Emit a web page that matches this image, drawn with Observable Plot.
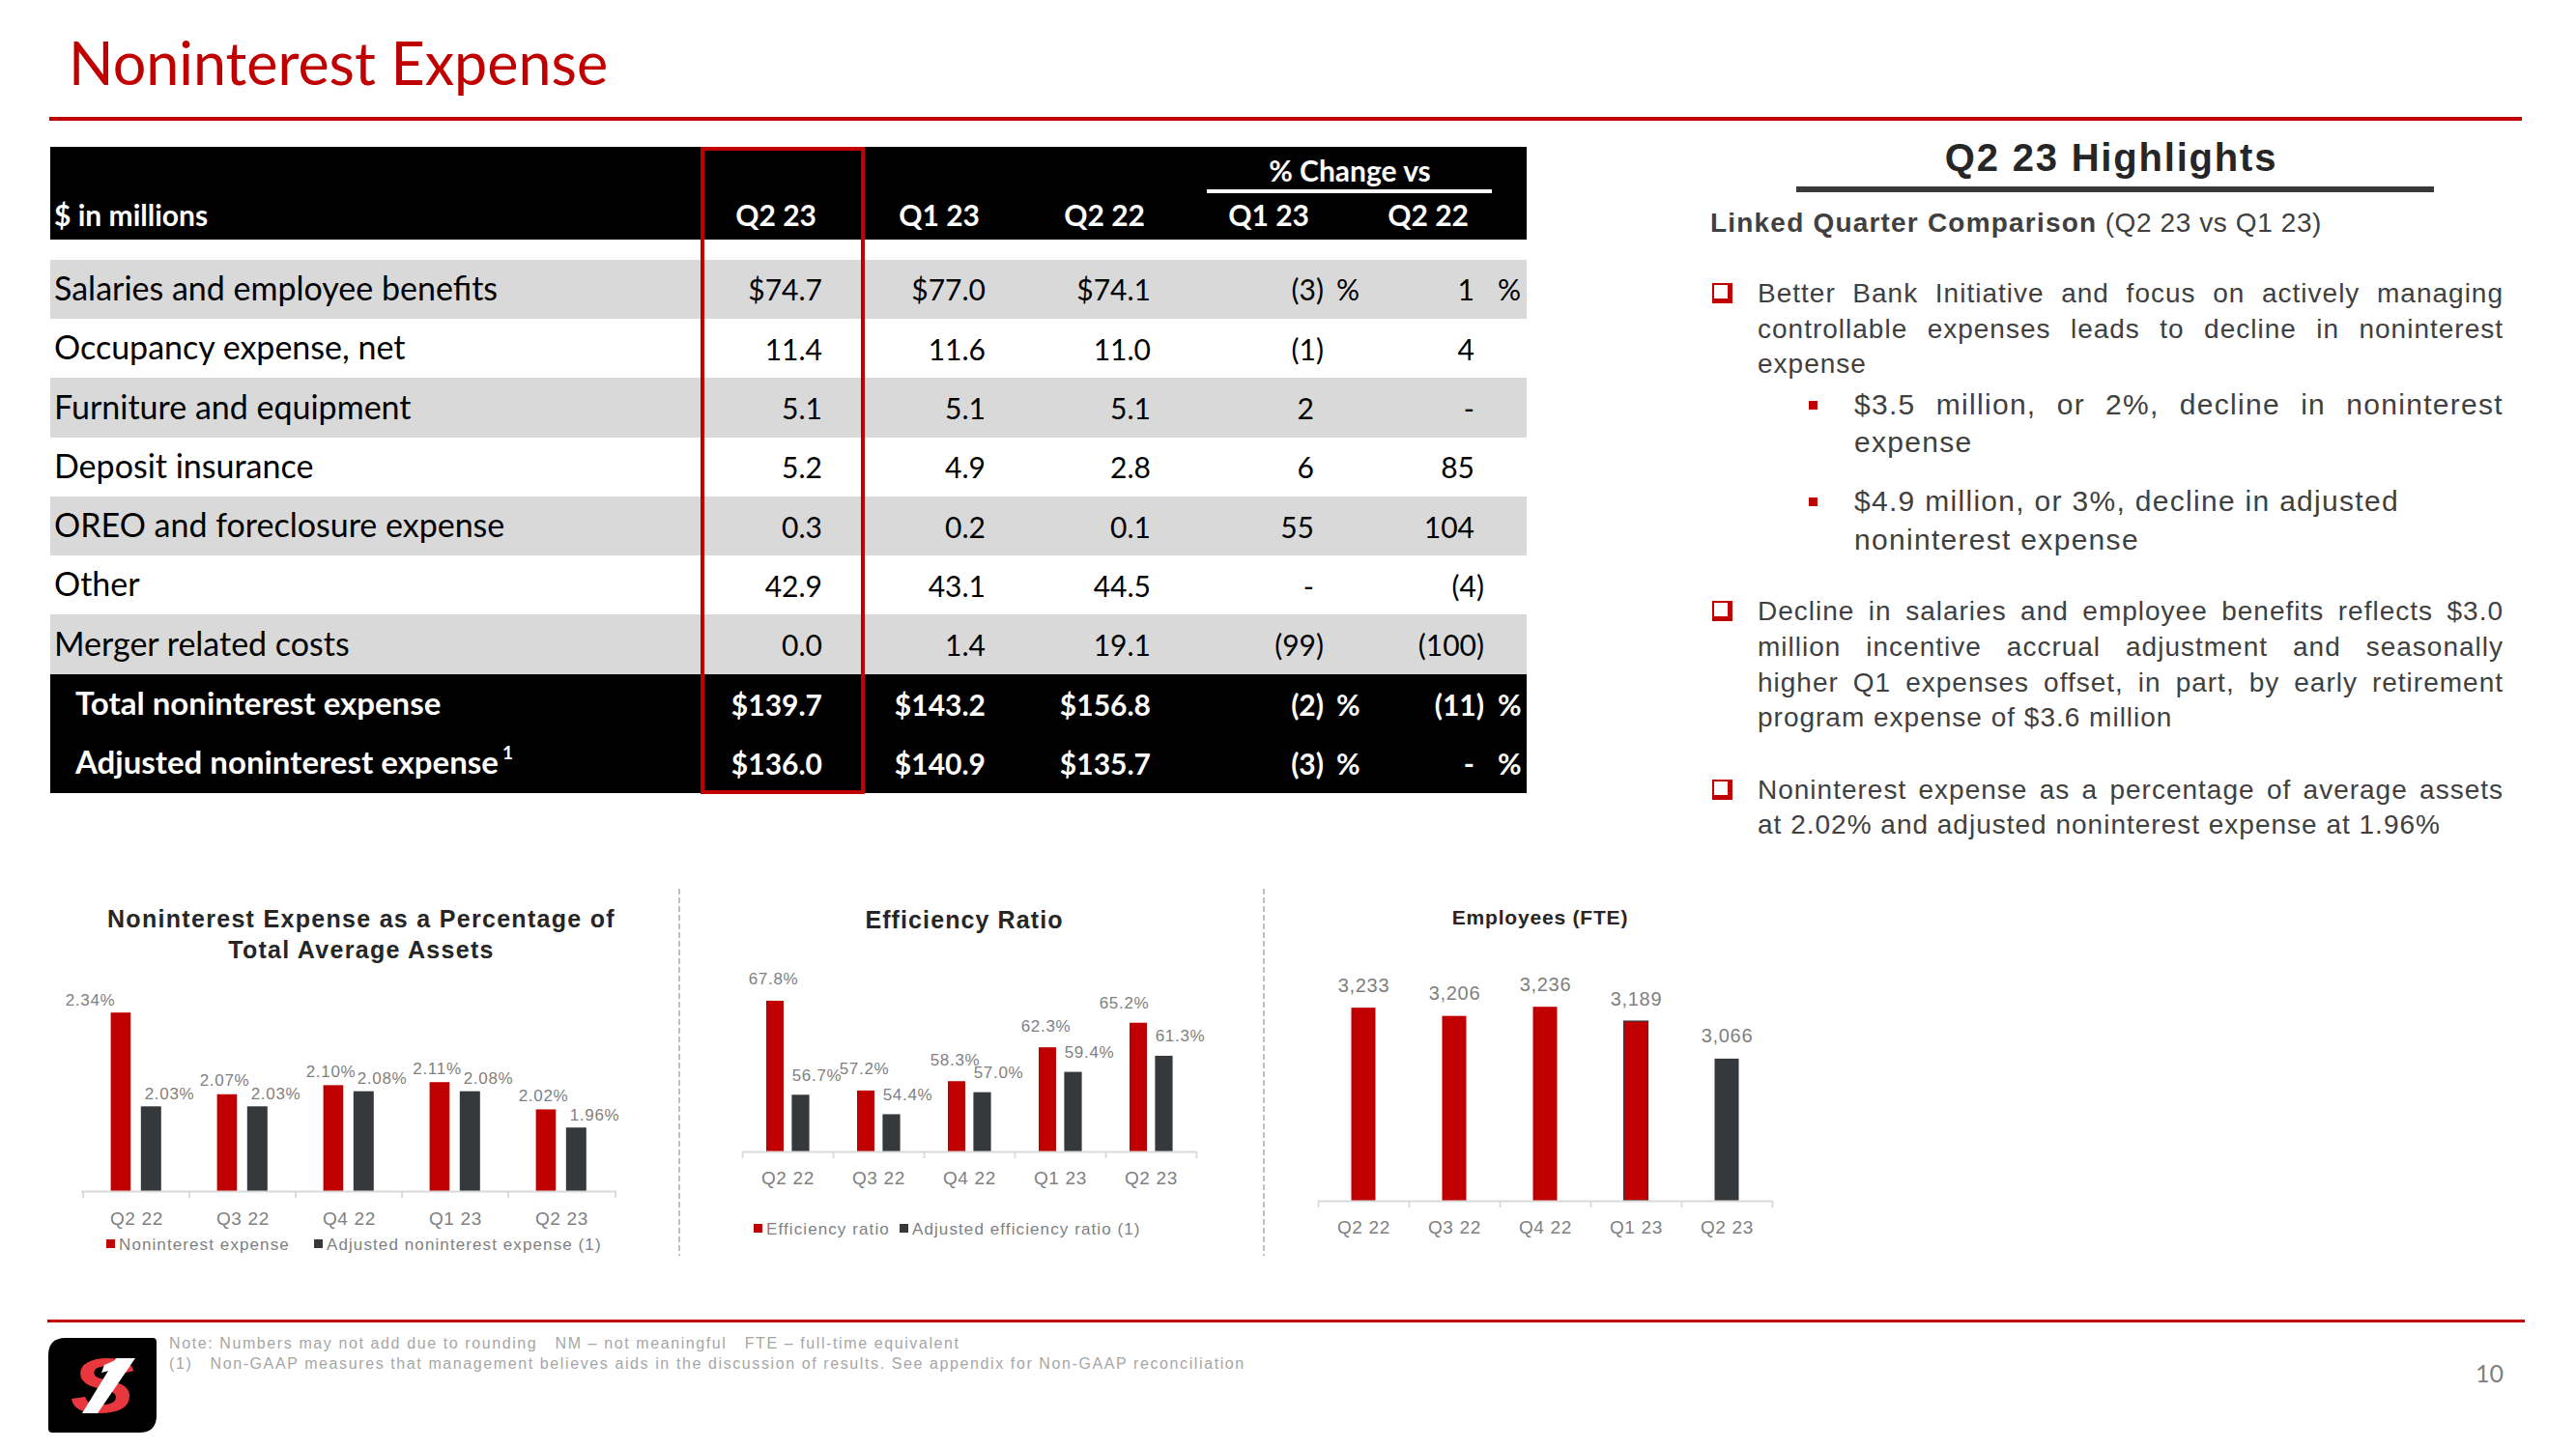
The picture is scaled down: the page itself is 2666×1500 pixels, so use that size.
<!DOCTYPE html>
<html><head><meta charset="utf-8">
<script src="https://cdn.jsdelivr.net/npm/d3@7"></script>
<script src="https://cdn.jsdelivr.net/npm/@observablehq/plot@0.6"></script>
<style>
html,body{margin:0;padding:0;background:#fff;}
#page{position:relative;width:2666px;height:1500px;overflow:hidden;background:#fff;}
#page > div{position:absolute;white-space:pre;}
</style></head>
<body><div id="page"></div>
<script>
// ---------------- data ----------------
const slideTitle = "Noninterest Expense";
const tableUnit = "$ in millions";
const tableColumns = ["Q2 23", "Q1 23", "Q2 22"];
const changeHeader = "% Change vs";
const changeColumns = ["Q1 23", "Q2 22"];
const lineItems = ["Salaries and employee benefits", "Occupancy expense, net", "Furniture and equipment", "Deposit insurance", "OREO and foreclosure expense", "Other", "Merger related costs", "Total noninterest expense", "Adjusted noninterest expense"];
const lineItemNotes = ["", "", "", "", "", "", "", "", "1"];
const valuesQ223 = ["$74.7", "11.4", "5.1", "5.2", "0.3", "42.9", "0.0", "$139.7", "$136.0"];
const valuesQ123 = ["$77.0", "11.6", "5.1", "4.9", "0.2", "43.1", "1.4", "$143.2", "$140.9"];
const valuesQ222 = ["$74.1", "11.0", "5.1", "2.8", "0.1", "44.5", "19.1", "$156.8", "$135.7"];
const changeVsQ123 = ["(3) %", "(1)", "2", "6", "55", "-", "(99)", "(2) %", "(3) %"];
const changeVsQ222 = ["1 %", "4", "-", "85", "104", "(4)", "(100)", "(11) %", "- %"];

const quarters = ["Q2 22", "Q3 22", "Q4 22", "Q1 23", "Q2 23"];
const nieToAssets = [2.34, 2.07, 2.10, 2.11, 2.02];
const adjNieToAssets = [2.03, 2.03, 2.08, 2.08, 1.96];
const efficiencyRatio = [67.8, 57.2, 58.3, 62.3, 65.2];
const adjEfficiencyRatio = [56.7, 54.4, 57.0, 59.4, 61.3];
const employeesFTE = [3233, 3206, 3236, 3189, 3066];

const chart1Title = ["Noninterest Expense as a Percentage of", "Total Average Assets"];
const chart1Legend = ["Noninterest expense", "Adjusted noninterest expense (1)"];
const chart2Title = "Efficiency Ratio";
const chart2Legend = ["Efficiency ratio", "Adjusted efficiency ratio (1)"];
const chart3Title = "Employees (FTE)";

const highlightsTitle = "Q2 23 Highlights";
const highlightsLead = "Linked Quarter Comparison";
const highlightsLeadNote = " (Q2 23 vs Q1 23)";
const bullet1 = ["Better Bank Initiative and focus on actively managing", "controllable expenses leads to decline in noninterest", "expense"];
const subBullet1 = ["$3.5 million, or 2%, decline in noninterest", "expense"];
const subBullet2 = ["$4.9 million, or 3%, decline in adjusted", "noninterest expense"];
const bullet2 = ["Decline in salaries and employee benefits reflects $3.0", "million incentive accrual adjustment and seasonally", "higher Q1 expenses offset, in part, by early retirement", "program expense of $3.6 million"];
const bullet3 = ["Noninterest expense as a percentage of average assets", "at 2.02% and adjusted noninterest expense at 1.96%"];
const footNotes = ["Note: Numbers may not add due to rounding   NM \u2013 not meaningful   FTE \u2013 full-time equivalent", "(1)   Non-GAAP measures that management believes aids in the discussion of results. See appendix for Non-GAAP reconciliation"];
const pageNumber = "10";

// ---------------- helpers ----------------
const RED = "#C00000", DARK = "#36393B", GRAY = "#7F7F7F", AXIS = "#D9D9D9", TEXT = "#404040";
const page = document.getElementById("page");
const FONTS = {lato: ['Lato, "Open Sans", sans-serif', 0.887], lib: ['"Liberation Sans", Arial, sans-serif', 0.8465]};
function txt(s, o) {
  const d = document.createElement("div");
  const [fam, k] = FONTS[o.font || "lib"];
  d.textContent = s;
  Object.assign(d.style, {
    fontFamily: fam, fontSize: o.size + "px", lineHeight: o.size + "px",
    fontWeight: o.weight || 400, color: o.color || "#000",
    letterSpacing: (o.ls || 0) + "px", top: (o.y - k * o.size) + "px"
  });
  if (o.anchor === "middle") { d.style.left = o.x + "px"; d.style.transform = "translateX(-50%)"; }
  else if (o.anchor === "end") { d.style.right = (2666 - o.x) + "px"; }
  else d.style.left = o.x + "px";
  page.appendChild(d);
  if (o.justify) {
    const w = d.getBoundingClientRect().width;
    const n = (s.match(/ /g) || []).length;
    if (n) d.style.wordSpacing = ((o.justify - w) / n) + "px";
  }
  return d;
}
function rect(x, y, w, h, css) {
  const d = document.createElement("div");
  Object.assign(d.style, {left: x + "px", top: y + "px", width: w + "px", height: h + "px"}, typeof css === "string" ? {background: css} : css);
  page.appendChild(d);
  return d;
}

// ---------------- header ----------------
txt(slideTitle, {x: 71, y: 88, size: 61, font: "lato", color: RED});
rect(51, 121, 2559, 4, RED);

// ---------------- table ----------------
const T = {left: 52, right: 1580, headTop: 152, headBottom: 248, rowTop: 268.6, rowH: 61.3};
rect(T.left, T.headTop, T.right - T.left, T.headBottom - T.headTop, "#000");
const headStyle = {y: 234, size: 30, weight: 700, color: "#fff", font: "lato"};
txt(tableUnit, {...headStyle, x: 56});
const valRight = [851, 1020, 1191];
const chgRight = [1370, 1536], pctLeft = [1383, 1550], chgHeadRight = [1355, 1520];
tableColumns.forEach((c, j) => txt(c, {...headStyle, x: valRight[j] - 6, anchor: "end"}));
changeColumns.forEach((c, j) => txt(c, {...headStyle, x: chgHeadRight[j], anchor: "end"}));
txt(changeHeader, {...headStyle, y: 188, x: 1397, anchor: "middle"});
rect(1249, 196, 295, 3.5, "#fff");

const nTotals = 2;
lineItems.forEach((label, i) => {
  const top = T.rowTop + i * T.rowH;
  const isTotal = i >= lineItems.length - nTotals;
  const bg = isTotal ? "#000" : (i % 2 === 0 ? "#D9D9D9" : "#fff");
  rect(T.left, top, T.right - T.left, T.rowH + 0.6, bg);
  const color = isTotal ? "#fff" : "#000", weight = isTotal ? 700 : 400;
  const base = top + 42.5;
  const lab = txt(label, {x: isTotal ? 78 : 56, y: base, size: isTotal ? 33 : 34, weight, color, font: "lato"});
  if (lineItemNotes[i]) {
    const sp = document.createElement("span");
    sp.textContent = lineItemNotes[i];
    Object.assign(sp.style, {fontSize: "19px", position: "relative", top: "-15px", marginLeft: "4px"});
    lab.appendChild(sp);
  }
  [valuesQ223, valuesQ123, valuesQ222].forEach((arr, j) =>
    txt(arr[i], {x: valRight[j], y: base, size: 30, weight, color, font: "lato", anchor: "end"}));
  [changeVsQ123, changeVsQ222].forEach((arr, j) => {
    const s = arr[i];
    const hasPct = /%$/.test(s);
    const num = s.replace(/\s*%$/, "");
    const paren = num.endsWith(")");
    txt(num, {x: chgRight[j] - (paren ? 0 : 10), y: base, size: 30, weight, color, font: "lato", anchor: "end"});
    if (hasPct) txt("%", {x: pctLeft[j], y: base, size: 30, weight, color, font: "lato"});
  });
});
// highlight box around current quarter
rect(725, 152, 170, 670, {border: "4px solid " + RED, boxSizing: "border-box"});

// ---------------- highlights ----------------
txt(highlightsTitle, {x: 2185, y: 177, size: 40, weight: 700, ls: 1.8, color: "#262626", anchor: "middle"});
rect(1859, 193, 660, 6, "#3A3A3A");
const lead = txt(highlightsLead, {x: 1770, y: 241, size: 28, weight: 700, ls: 1.2, color: TEXT});
const leadNote = document.createElement("span");
leadNote.textContent = highlightsLeadNote;
Object.assign(leadNote.style, {fontWeight: 400, letterSpacing: "0.6px"});
lead.appendChild(leadNote);

function checkbox(baseline) {
  rect(1772, baseline - 21, 21, 21, {border: "2.5px solid " + RED, borderRightWidth: "5px", borderBottomWidth: "5px", boxSizing: "border-box"});
}
function square(baseline) { rect(1872, baseline - 14, 9, 9, RED); }
function para(lines, baselines, x, right, opts, justifyAll) {
  lines.forEach((l, k) => {
    const last = k === lines.length - 1;
    txt(l, {x, y: baselines[k], ...opts, justify: (!last || justifyAll) ? right - x : null});
  });
}
const bodyStyle = {size: 28, ls: 1, color: TEXT};
const subStyle = {size: 30, ls: 1.3, color: TEXT};
checkbox(314);
para(bullet1, [314, 351, 387], 1819, 2591, bodyStyle);
square(429);
para(subBullet1, [429, 468], 1919, 2591, subStyle);
square(529);
txt(subBullet2[0], {x: 1919, y: 529, ...subStyle});
txt(subBullet2[1], {x: 1919, y: 569, ...subStyle});
checkbox(643);
para(bullet2, [643, 680, 717, 753], 1819, 2591, bodyStyle);
checkbox(828);
para(bullet3, [828, 864], 1819, 2591, bodyStyle);

// ---------------- charts ----------------
const chartFont = '"Liberation Sans", Arial, sans-serif';
function makeChart(cfg, marks) {
  const svg = Plot.plot({
    width: cfg.width, height: cfg.height,
    marginLeft: cfg.mL, marginRight: cfg.mR, marginTop: cfg.mT, marginBottom: cfg.mB,
    x: {type: "band", domain: quarters, padding: 0, axis: null},
    y: {domain: cfg.domain, axis: null},
    style: {fontFamily: chartFont, background: "transparent", overflow: "visible", letterSpacing: "0.7px"},
    marks
  });
  Object.assign(svg.style, {position: "absolute", left: cfg.left + "px", top: cfg.top + "px"});
  page.appendChild(svg);
  d3.select(svg).selectAll('g[aria-label="cat"] text').style("letter-spacing", "2px");
  return svg;
}
function axisMarks(base, step, labelDy) {
  return [
    Plot.ruleY([base], {stroke: AXIS, strokeWidth: 1.8}),
    Plot.ruleX(quarters, {x: d => d, y1: base, y2: base, insetBottom: -7, dx: -step / 2, stroke: AXIS, strokeWidth: 1.8}),
    Plot.ruleX(quarters.slice(-1), {x: d => d, y1: base, y2: base, insetBottom: -7, dx: step / 2, stroke: AXIS, strokeWidth: 1.8}),
    Plot.text(quarters, {x: d => d, text: d => d, frameAnchor: "bottom", lineAnchor: "bottom", dy: labelDy, fill: GRAY, fontSize: 19, ariaLabel: "cat"})
  ];
}

// Chart 1: noninterest expense / average assets
const d1 = quarters.map((q, i) => ({q, v: nieToAssets[i], a: adjNieToAssets[i]}));
const c1 = {left: 60, top: 1000, width: 620, height: 290, mL: 24, mR: 42, mT: 20, mB: 57, domain: [1.75, 2.43]};
const step1 = (c1.width - c1.mL - c1.mR) / quarters.length;
const pct2 = d => d.toFixed(2) + "%";
makeChart(c1, [
  Plot.barY(d1, {x: "q", y1: 1.75, y2: "v", fill: RED, insetLeft: 28.6, insetRight: 60.8}),
  Plot.barY(d1, {x: "q", y1: 1.75, y2: "a", fill: DARK, insetLeft: 59.8, insetRight: 29.2}),
  ...axisMarks(1.75, step1, 34),
  Plot.text(d1, {filter: (d, i) => i === 0, x: "q", y: "v", text: d => pct2(d.v), lineAnchor: "bottom", dy: -8, dx: -48, fill: GRAY, fontSize: 17}),
  Plot.text(d1, {filter: (d, i) => i > 0, x: "q", y: "v", text: d => pct2(d.v), lineAnchor: "bottom", dy: -9, dx: -19, fill: GRAY, fontSize: 17}),
  Plot.text(d1, {x: "q", y: "a", text: d => pct2(d.a), lineAnchor: "bottom", dy: -8, dx: 34, fill: GRAY, fontSize: 17})
]);
chart1Title.forEach((t, k) => txt(t, {x: 374, y: 960 + k * 31.7, size: 25, weight: 700, ls: 1.3, color: "#262626", anchor: "middle"}));

// Chart 2: efficiency ratio
const d2 = quarters.map((q, i) => ({q, v: efficiencyRatio[i], a: adjEfficiencyRatio[i]}));
const c2 = {left: 710, top: 980, width: 590, height: 300, mL: 58, mR: 62, mT: 20, mB: 88, domain: [50, 71.9]};
const step2 = (c2.width - c2.mL - c2.mR) / quarters.length;
const pct1 = d => d.toFixed(1) + "%";
makeChart(c2, [
  Plot.barY(d2, {x: "q", y1: 50, y2: "v", fill: RED, insetLeft: 25, insetRight: 51}),
  Plot.barY(d2, {x: "q", y1: 50, y2: "a", fill: DARK, insetLeft: 51.4, insetRight: 24.4}),
  ...axisMarks(50, step2, 33),
  Plot.text(d2, {filter: (d, i) => i < quarters.length - 1, x: "q", y: "v", text: d => pct1(d.v), lineAnchor: "bottom", dy: -17, dx: -15, fill: GRAY, fontSize: 17}),
  Plot.text(d2, {filter: (d, i) => i === quarters.length - 1, x: "q", y: "v", text: d => pct1(d.v), lineAnchor: "bottom", dy: -15, dx: -28, fill: GRAY, fontSize: 17}),
  Plot.text(d2, {x: "q", y: "a", text: d => pct1(d.a), lineAnchor: "bottom", dy: -15, dx: 30, fill: GRAY, fontSize: 17})
]);
txt(chart2Title, {x: 998, y: 961, size: 25, weight: 700, ls: 1.1, color: "#262626", anchor: "middle"});

// Chart 3: employees
const d3data = quarters.map((q, i) => ({q, v: employeesFTE[i]}));
const current = quarters[quarters.length - 1], previous = quarters[quarters.length - 2];
const c3 = {left: 1320, top: 990, width: 560, height: 300, mL: 44, mR: 46, mT: 20, mB: 47, domain: [2600, 3338]};
const step3 = (c3.width - c3.mL - c3.mR) / quarters.length;
const side = {insetLeft: 34.5, insetRight: 34.5};
makeChart(c3, [
  Plot.barY(d3data, {filter: d => d.q !== current, x: "q", y1: 2600, y2: "v", fill: RED, ...side}),
  Plot.barY(d3data, {filter: d => d.q === previous, x: "q", y1: 2600, y2: "v", fill: "none", stroke: DARK, strokeWidth: 1.2, ...side}),
  Plot.barY(d3data, {filter: d => d.q === current, x: "q", y1: 2600, y2: "v", fill: DARK, ...side}),
  ...axisMarks(2600, step3, 33.5),
  Plot.text(d3data, {x: "q", y: "v", text: d => d3.format(",")(d.v), lineAnchor: "bottom", dy: -17, fill: GRAY, fontSize: 20})
]);
txt(chart3Title, {x: 1594, y: 957, size: 21, weight: 700, ls: 0.8, color: "#262626", anchor: "middle"});

// legends
function legendItem(x, cy, color, label) {
  rect(x, cy - 5, 9, 9, color);
  txt(label, {x: x + 13, y: cy + 6, size: 17, ls: 1.1, color: GRAY});
}
legendItem(110, 1288, RED, chart1Legend[0]);
legendItem(325, 1288, DARK, chart1Legend[1]);
legendItem(780, 1272, RED, chart2Legend[0]);
legendItem(931, 1272, DARK, chart2Legend[1]);

// dashed separators
[702, 1307].forEach(x => rect(x, 920, 2, 380, {background: "repeating-linear-gradient(to bottom, #BFBFBF 0 6px, transparent 6px 9px)"}));

// ---------------- footer ----------------
rect(49, 1366, 2564, 3, RED);
footNotes.forEach((n, k) => txt(n, {x: 175, y: 1397 + k * 21, size: 16, ls: 1.6, color: "#A6A6A6"}));
txt(pageNumber, {x: 2591, y: 1431, size: 25, font: "lato", color: GRAY, anchor: "end"});
const logo = document.createElement("div");
Object.assign(logo.style, {left: "50px", top: "1385px", width: "112px", height: "98px"});
logo.innerHTML = '<svg width="112" height="98" viewBox="0 0 112 98">' +
  '<path d="M18 0 H108 Q112 0 112 4 V80 Q112 98 94 98 H4 Q0 98 0 94 V18 Q0 0 18 0Z" fill="#000"/>' +
  '<text transform="translate(56,77) scale(1.25,1)" text-anchor="middle" font-family="Liberation Sans, Arial" font-weight="700" font-style="italic" font-size="80" fill="#E8373D">S</text>' +
  '<path d="M70 21 L90 21 L51 78 L35 78 Z" fill="#fff"/>' +
  '<path d="M58 28 L74 21 L70 32 L55 36 Z" fill="#fff"/></svg>';
page.appendChild(logo);
</script>
</body></html>
